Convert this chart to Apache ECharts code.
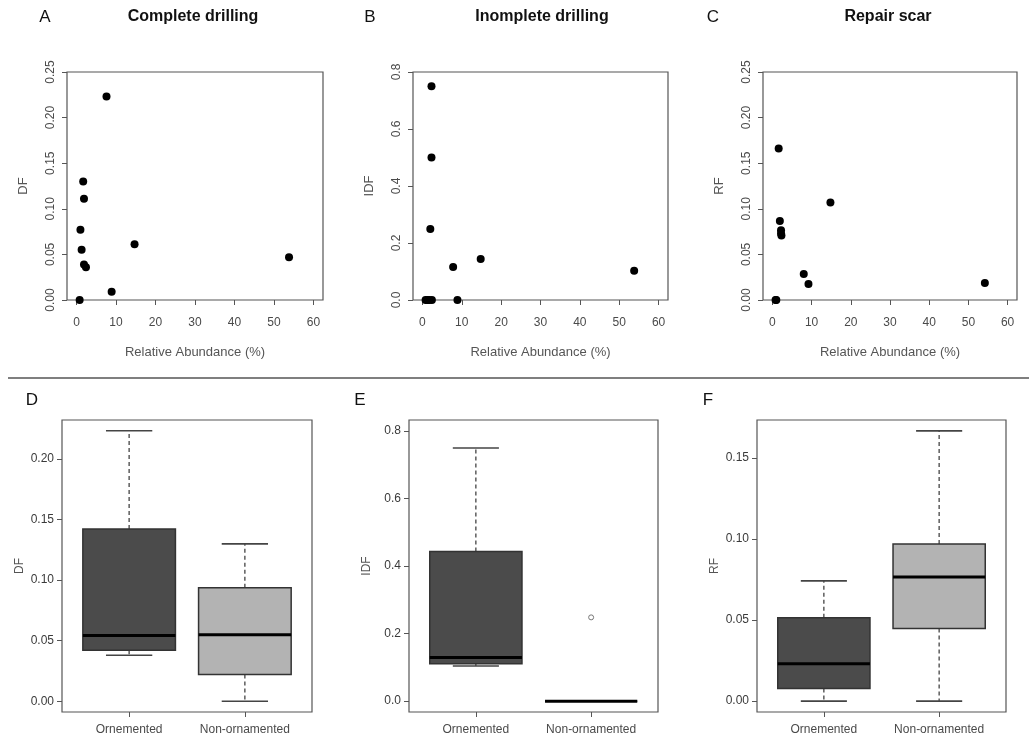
<!DOCTYPE html>
<html>
<head>
<meta charset="utf-8">
<script src="https://cdn.jsdelivr.net/npm/echarts@6/dist/echarts.min.js"></script>
<style>
html,body{margin:0;padding:0;background:#fff;}
#chart{width:1029px;height:744px;}
</style>
</head>
<body>
<div id="chart"></div>
<script>
// ---------- DATA ----------
const panelTitles = ['Complete drilling', 'Inomplete drilling', 'Repair scar'];
const panelLetters = ['A', 'B', 'C', 'D', 'E', 'F'];
const yNames = ['DF', 'IDF', 'RF'];
const xTitle = 'Relative Abundance (%)';
const xTicks = [0, 10, 20, 30, 40, 50, 60];

// Scatter: relative abundance (%) vs frequency
const abundA = [7.6, 1.7, 1.9, 1.0, 1.3, 1.9, 2.4, 0.8, 8.9, 14.7, 53.8];
const dfA    = [0.223, 0.130, 0.111, 0.077, 0.055, 0.039, 0.036, 0.0, 0.009, 0.061, 0.047];
const abundB = [2.3, 2.3, 2.0, 7.8, 14.8, 53.8, 8.9, 0.8, 1.3, 1.7, 2.4];
const idfB   = [0.75, 0.50, 0.249, 0.116, 0.144, 0.103, 0, 0, 0, 0, 0];
const abundC = [1.6, 1.9, 2.2, 2.2, 2.3, 14.8, 8.0, 9.2, 54.2, 1.0, 0.8];
const rfC    = [0.166, 0.0865, 0.0766, 0.073, 0.0708, 0.107, 0.0285, 0.0175, 0.0186, 0, 0];

const yTicksTop = [[0, 0.05, 0.10, 0.15, 0.20, 0.25], [0, 0.2, 0.4, 0.6, 0.8], [0, 0.05, 0.10, 0.15, 0.20, 0.25]];

// Boxplots: [min, Q1, median, Q3, max]
const groups = ['Ornemented', 'Non-ornamented'];
const boxD = [[0.038, 0.0421, 0.0542, 0.1422, 0.2234], [0, 0.022, 0.055, 0.0938, 0.130]];
const boxE = [[0.104, 0.111, 0.129, 0.443, 0.749], [0, 0, 0, 0, 0]];
const boxF = [[0, 0.0078, 0.023, 0.0514, 0.0742], [0, 0.0448, 0.0766, 0.097, 0.1668]];
const outliersE = [[2, 0.248]];
const yTicksBottom = [[0, 0.05, 0.10, 0.15, 0.20], [0, 0.2, 0.4, 0.6, 0.8], [0, 0.05, 0.10, 0.15]];
const yRangesBottom = [[-0.0089, 0.2323], [-0.032, 0.832], [-0.0067, 0.1735]];
const boxColors = ['#4b4b4b', '#b3b3b3'];

// ---------- LAYOUT ----------
const topGrids = [
  {left: 67, top: 72, width: 256, height: 228},
  {left: 413, top: 72, width: 255, height: 228},
  {left: 763, top: 72, width: 254, height: 228}
];
const botGrids = [
  {left: 62, top: 420, width: 250, height: 292},
  {left: 409, top: 420, width: 249, height: 292},
  {left: 757, top: 420, width: 249, height: 292}
];
const labelColor = '#4a4a4a';
const font = 'Liberation Sans, Arial, sans-serif';

const grids = [], xAxes = [], yAxes = [], series = [];

const scatterData = [[abundA, dfA], [abundB, idfB], [abundC, rfC]];
for (let i = 0; i < 3; i++) {
  grids.push(Object.assign({show: true, borderColor: '#555', borderWidth: 1.2, backgroundColor: 'transparent'}, topGrids[i]));
  xAxes.push({
    type: 'value', gridIndex: i, min: -2.4, max: 62.4,
    axisLine: {show: false, onZero: false},
    splitLine: {show: false},
    axisTick: {show: true, length: 5, customValues: xTicks, lineStyle: {color: '#555'}},
    axisLabel: {customValues: xTicks, color: labelColor, fontSize: 12, fontFamily: font, margin: 17},
    name: xTitle, nameLocation: 'middle', nameGap: 46,
    nameTextStyle: {color: '#555', fontSize: 13, fontFamily: font}
  });
  const yt = yTicksTop[i];
  yAxes.push({
    type: 'value', gridIndex: i, min: 0, max: yt[yt.length - 1],
    axisLine: {show: false, onZero: false},
    splitLine: {show: false},
    axisTick: {show: true, length: 5, customValues: yt, lineStyle: {color: '#555'}},
    axisLabel: {customValues: yt, rotate: 90, color: labelColor, fontSize: 12, fontFamily: font, margin: 10,
      formatter: v => (i === 1 ? v.toFixed(1) : v.toFixed(2))},
    name: yNames[i], nameLocation: 'middle', nameGap: 37,
    nameTextStyle: {color: '#555', fontSize: 13, fontFamily: font}
  });
  const xs = scatterData[i][0], ys = scatterData[i][1];
  series.push({
    type: 'scatter', xAxisIndex: i, yAxisIndex: i,
    symbol: 'circle', symbolSize: 8,
    itemStyle: {color: '#000', opacity: 1},
    data: xs.map((x, k) => [x, ys[k]]),
    silent: true, z: 5
  });
}

function boxRender(params, api) {
  const xv = api.value(0);
  const vmin = api.value(1), q1 = api.value(2), med = api.value(3), q3 = api.value(4), vmax = api.value(5);
  const pMin = api.coord([xv, vmin]), pQ1 = api.coord([xv, q1]), pMed = api.coord([xv, med]);
  const pQ3 = api.coord([xv, q3]), pMax = api.coord([xv, vmax]);
  const w = api.size([0.8, 0])[0];
  const cx = pMed[0];
  const fill = boxColors[params.dataIndex];
  const ws = {stroke: '#444', lineWidth: 1.3, lineDash: [4, 3]};
  const cs = {stroke: '#444', lineWidth: 1.6};
  return {
    type: 'group',
    children: [
      {type: 'line', shape: {x1: cx, y1: pQ3[1], x2: cx, y2: pMax[1]}, style: ws},
      {type: 'line', shape: {x1: cx, y1: pQ1[1], x2: cx, y2: pMin[1]}, style: ws},
      {type: 'line', shape: {x1: cx - w / 4, y1: pMax[1], x2: cx + w / 4, y2: pMax[1]}, style: cs},
      {type: 'line', shape: {x1: cx - w / 4, y1: pMin[1], x2: cx + w / 4, y2: pMin[1]}, style: cs},
      {type: 'rect', shape: {x: cx - w / 2, y: pQ3[1], width: w, height: pQ1[1] - pQ3[1]},
        style: {fill: fill, stroke: '#333', lineWidth: 1.5}},
      {type: 'line', shape: {x1: cx - w / 2, y1: pMed[1], x2: cx + w / 2, y2: pMed[1]},
        style: {stroke: '#000', lineWidth: 3}}
    ]
  };
}

const boxData = [boxD, boxE, boxF];
for (let i = 0; i < 3; i++) {
  const gi = 3 + i;
  grids.push(Object.assign({show: true, borderColor: '#555', borderWidth: 1.2, backgroundColor: 'transparent'}, botGrids[i]));
  xAxes.push({
    type: 'value', gridIndex: gi, min: 0.42, max: 2.58,
    axisLine: {show: false, onZero: false},
    splitLine: {show: false},
    axisTick: {show: true, length: 5, customValues: [1, 2], lineStyle: {color: '#555'}},
    axisLabel: {customValues: [1, 2], color: labelColor, fontSize: 12, fontFamily: font, margin: 12,
      formatter: v => groups[Math.round(v) - 1]}
  });
  const yt = yTicksBottom[i];
  yAxes.push({
    type: 'value', gridIndex: gi, min: yRangesBottom[i][0], max: yRangesBottom[i][1],
    axisLine: {show: false, onZero: false},
    splitLine: {show: false},
    axisTick: {show: true, length: 5, customValues: yt, lineStyle: {color: '#555'}},
    axisLabel: {customValues: yt, color: '#3a3a3a', fontSize: 12, fontFamily: font, margin: 8,
      formatter: v => (i === 1 ? v.toFixed(1) : v.toFixed(2))},
    name: yNames[i], nameLocation: 'middle', nameGap: 36,
    nameTextStyle: {color: '#555', fontSize: 12, fontFamily: font}
  });
  series.push({
    type: 'custom', xAxisIndex: gi, yAxisIndex: gi,
    renderItem: boxRender,
    data: boxData[i].map((s, k) => [k + 1].concat(s)),
    encode: {x: 0, y: [1, 2, 3, 4, 5]},
    silent: true, z: 3
  });
}
series.push({
  type: 'scatter', xAxisIndex: 4, yAxisIndex: 4,
  symbol: 'circle', symbolSize: 5,
  itemStyle: {color: '#fff', borderColor: '#777', borderWidth: 1, opacity: 1},
  data: outliersE, silent: true, z: 6
});

// ---------- TEXT / DECOR ----------
const graphics = [
  {type: 'line', shape: {x1: 8, y1: 378, x2: 1029, y2: 378}, style: {stroke: '#555', lineWidth: 1.5}}
];
const titleCenters = [193, 542, 888];
const letterTop = [[45, 17], [370, 17], [713, 17]];
const letterBot = [[32, 400], [360, 400], [708, 400]];
for (let i = 0; i < 3; i++) {
  graphics.push({type: 'text', x: titleCenters[i], y: 17,
    style: {text: panelTitles[i], font: 'bold 16px ' + font, fill: '#111', textAlign: 'center', textVerticalAlign: 'middle'}});
  graphics.push({type: 'text', x: letterTop[i][0], y: letterTop[i][1],
    style: {text: panelLetters[i], font: '17px ' + font, fill: '#111', textAlign: 'center', textVerticalAlign: 'middle'}});
  graphics.push({type: 'text', x: letterBot[i][0], y: letterBot[i][1],
    style: {text: panelLetters[3 + i], font: '17px ' + font, fill: '#111', textAlign: 'center', textVerticalAlign: 'middle'}});
}

const chart = echarts.init(document.getElementById('chart'), null, {renderer: 'canvas'});
chart.setOption({
  animation: false,
  backgroundColor: '#fff',
  grid: grids,
  xAxis: xAxes,
  yAxis: yAxes,
  series: series,
  graphic: graphics
});
</script>
</body>
</html>
